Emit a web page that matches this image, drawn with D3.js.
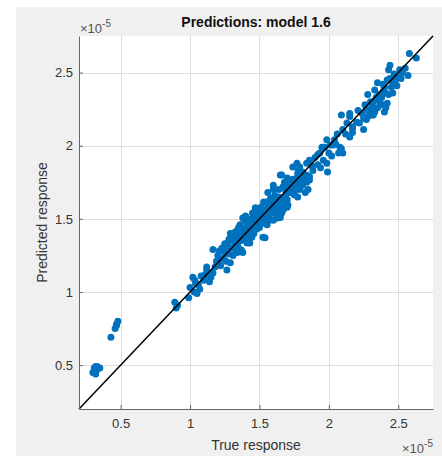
<!DOCTYPE html>
<html>
<head>
<meta charset="utf-8">
<script src="https://cdn.jsdelivr.net/npm/d3@7"></script>
<style>
  html, body { margin: 0; padding: 0; background: #ffffff; }
  svg { display: block; }
  text { font-family: "Liberation Sans", Arial, Helvetica, sans-serif; }
</style>
</head>
<body>
<svg id="chart" width="442" height="456"></svg>
<script>
// ---- data (units of 1e-5) ----
const titleText = "Predictions: model 1.6";
const xLabel = "True response";
const yLabel = "Predicted response";
const xTicks = [0.5, 1, 1.5, 2, 2.5];
const yTicks = [0.5, 1, 1.5, 2, 2.5];
const axisDomain = [0.2, 2.75];

// [true, predicted]
const ptsLow = [
  [0.31,0.46],[0.32,0.44],[0.33,0.47],[0.30,0.45],[0.34,0.48],[0.33,0.49],[0.35,0.48],[0.31,0.48],[0.32,0.49],
  [0.43,0.69],[0.46,0.75],[0.47,0.78],[0.48,0.80],[0.47,0.77],
  [0.89,0.93],[0.90,0.89],[0.91,0.91],
  [0.99,0.96],[1.00,1.03],[1.03,1.00],[1.04,1.06],[1.02,1.10],[1.035,1.08],[1.06,1.05],[1.05,0.99],
  [1.08,1.11],[1.10,1.08],[1.12,1.15],[1.13,1.115],[1.12,1.17],[1.165,1.13],[1.18,1.17],[1.165,1.29],
  [1.20,1.25],[1.215,1.22],[1.29,1.20],[1.265,1.15],[1.27,1.335],[1.30,1.39],[1.345,1.31],[1.38,1.27],
  [1.37,1.375],[1.41,1.335],[1.15,1.10],[1.22,1.18],[1.24,1.23],[1.25,1.27],[1.23,1.30],[1.28,1.26],
  [1.30,1.30],[1.32,1.34],[1.33,1.28],[1.26,1.21],[1.19,1.21],
  [1.07,1.02],[1.11,1.12],[1.14,1.07],[1.21,1.28],[1.25,1.33],[1.31,1.25],[1.28,1.36],[1.34,1.27]
];
const ptsMid = [
  [1.34,1.42],[1.36,1.46],[1.29,1.40],[1.31,1.355],[1.27,1.31],[1.38,1.355],[1.445,1.375],[1.525,1.375],
  [1.41,1.49],[1.48,1.47],[1.395,1.49],[1.325,1.41],[1.35,1.38],[1.40,1.40],[1.42,1.44],[1.38,1.505],
  [1.41,1.46],[1.45,1.54],[1.43,1.335],[1.37,1.287],[1.44,1.42],[1.46,1.45],[1.47,1.50],[1.39,1.43],
  [1.36,1.35],[1.42,1.38],[1.40,1.52],[1.33,1.36],[1.45,1.47],[1.35,1.44],
  [1.37,1.41],[1.43,1.47],[1.39,1.37],[1.46,1.40],[1.48,1.43],[1.41,1.41],[1.44,1.50],[1.34,1.33],
  [1.47,1.575],[1.48,1.53],[1.50,1.54],[1.53,1.55],[1.575,1.58],[1.60,1.49],[1.65,1.51],[1.63,1.61],
  [1.67,1.56],[1.705,1.595],[1.54,1.37],[1.50,1.44],[1.555,1.46],[1.53,1.615],[1.59,1.595],
  [1.56,1.68],[1.55,1.615],[1.60,1.70],[1.61,1.63],[1.575,1.54],[1.63,1.505],[1.66,1.54],[1.70,1.58],
  [1.52,1.50],[1.57,1.52],[1.62,1.57],[1.64,1.65],[1.58,1.64],[1.51,1.58],[1.55,1.50],[1.68,1.62],
  [1.54,1.56],[1.49,1.51],[1.62,1.53],[1.66,1.60],[1.59,1.56],[1.56,1.59],[1.53,1.47],[1.61,1.66],
  [1.52,1.53],[1.58,1.61],[1.65,1.58],[1.57,1.49],[1.50,1.48],[1.63,1.55],[1.67,1.64],[1.54,1.52],
  [1.66,1.80],[1.67,1.72],[1.73,1.745],[1.775,1.81],[1.84,1.75],[1.83,1.68],[1.65,1.80],[1.60,1.73],
  [1.72,1.73],[1.75,1.68],[1.775,1.65],[1.70,1.63],[1.74,1.855],[1.77,1.88],[1.79,1.855],[1.84,1.88],
  [1.86,1.90],[1.81,1.82],[1.86,1.79],[1.885,1.83],[1.84,1.755],[1.77,1.78],[1.735,1.72],[1.79,1.70],
  [1.85,1.70],[1.75,1.665],[1.86,1.765],[1.84,1.80],[1.69,1.69],[1.71,1.76],[1.78,1.74],[1.68,1.75],
  [1.82,1.78],[1.76,1.71],[1.80,1.77],[1.72,1.68],[1.88,1.86],[1.70,1.78],[1.81,1.73],[1.64,1.70],
  [1.74,1.77],[1.69,1.66],[1.78,1.83],[1.73,1.69],[1.71,1.71]
];
const ptsHigh = [
  [1.92,1.87],[1.935,1.95],[1.96,1.90],[1.97,1.99],[1.99,1.82],[2.01,2.005],[2.04,2.04],[2.06,2.08],
  [2.09,1.98],[2.10,1.95],[2.07,1.95],[1.985,2.04],[1.95,1.99],[2.03,2.005],[1.985,1.88],[1.92,1.94],
  [1.96,1.99],[2.08,1.99],[2.10,2.11],[2.15,2.06],[2.09,2.21],[2.13,2.155],[2.17,2.12],[1.90,1.92],
  [2.00,1.95],[2.05,2.01],[2.12,2.08],[1.94,1.85],[2.02,1.93],
  [2.15,2.20],[2.17,2.13],[2.22,2.155],[2.27,2.18],[2.31,2.21],[2.33,2.23],[2.17,2.09],[2.15,2.22],
  [2.25,2.19],[2.28,2.20],[2.32,2.21],[2.40,2.23],[2.26,2.28],[2.35,2.26],[2.37,2.29],[2.42,2.29],
  [2.30,2.30],[2.28,2.35],[2.38,2.33],[2.43,2.35],[2.46,2.36],[2.33,2.38],[2.40,2.40],[2.49,2.41],
  [2.35,2.43],[2.42,2.45],[2.44,2.46],[2.48,2.45],[2.50,2.47],[2.57,2.48],[2.51,2.52],[2.55,2.53],
  [2.43,2.52],[2.44,2.55],[2.58,2.63],[2.63,2.60],[2.21,2.24],[2.27,2.25],[2.25,2.11],[2.20,2.16],
  [2.24,2.22],[2.36,2.31],[2.39,2.37],[2.45,2.40],[2.31,2.27],[2.47,2.49],[2.52,2.46],[2.41,2.26],
  [2.34,2.33],[2.29,2.24],[2.53,2.50],
  [2.38,2.28],[2.41,2.36],[2.36,2.35],[2.46,2.43],[2.32,2.30],[2.39,2.42]
];
const points = ptsLow.concat(ptsMid, ptsHigh);

// ---- drawing ----
const svg = d3.select("#chart");
const W = 442, H = 456;
const plot = { left: 79, top: 36, right: 433, bottom: 409 };

svg.append("rect").attr("x", 16).attr("y", 7).attr("width", W - 16).attr("height", H - 7)
  .attr("fill", "#f0f0f0");
svg.append("rect").attr("x", plot.left).attr("y", plot.top)
  .attr("width", plot.right - plot.left).attr("height", plot.bottom - plot.top)
  .attr("fill", "#ffffff");

const x = d3.scaleLinear().domain(axisDomain).range([plot.left, plot.right]);
const y = d3.scaleLinear().domain(axisDomain).range([plot.bottom, plot.top]);

// grid
const grid = svg.append("g").attr("stroke", "#dedede").attr("stroke-width", 1);
grid.selectAll("line.gx").data(xTicks).join("line")
  .attr("x1", d => Math.round(x(d)) + 0.5).attr("x2", d => Math.round(x(d)) + 0.5)
  .attr("y1", plot.top).attr("y2", plot.bottom);
grid.selectAll("line.gy").data(yTicks).join("line")
  .attr("y1", d => Math.round(y(d)) + 0.5).attr("y2", d => Math.round(y(d)) + 0.5)
  .attr("x1", plot.left).attr("x2", plot.right);

// points
svg.append("g").selectAll("circle").data(points).join("circle")
  .attr("cx", d => x(d[0])).attr("cy", d => y(d[1])).attr("r", 3.5)
  .attr("fill", "#0072BD");

// diagonal
svg.append("line")
  .attr("x1", x(axisDomain[0])).attr("y1", y(axisDomain[0]))
  .attr("x2", x(axisDomain[1])).attr("y2", y(axisDomain[1]))
  .attr("stroke", "#000").attr("stroke-width", 1.5);

// axes (inward ticks, MATLAB style)
const xAxis = d3.axisBottom(x).tickValues(xTicks).tickSizeInner(-4).tickSizeOuter(0)
  .tickPadding(10).tickFormat(d3.format("~g"));
const yAxis = d3.axisLeft(y).tickValues(yTicks).tickSizeInner(-4).tickSizeOuter(0)
  .tickPadding(6).tickFormat(d3.format("~g"));

const gx = svg.append("g").attr("transform", `translate(0,${plot.bottom})`).call(xAxis);
const gy = svg.append("g").attr("transform", `translate(${plot.left},0)`).call(yAxis);
[gx, gy].forEach(g => {
  g.select(".domain").attr("stroke", "#666").attr("stroke-width", 1);
  g.selectAll(".tick line").attr("stroke", "#666");
  g.selectAll(".tick text").attr("fill", "#333").attr("font-size", 13)
    .attr("font-family", "Liberation Sans, Arial, sans-serif");
});
gx.selectAll(".tick text").attr("dy", "0.71em");

// title
svg.append("text").attr("x", (plot.left + plot.right) / 2).attr("y", 27)
  .attr("text-anchor", "middle").attr("font-size", 14).attr("font-weight", "bold")
  .attr("fill", "#111").text(titleText);

// axis labels
svg.append("text").attr("x", (plot.left + plot.right) / 2).attr("y", 450)
  .attr("text-anchor", "middle").attr("font-size", 14).attr("fill", "#333").text(xLabel);
svg.append("text")
  .attr("transform", `translate(47,${(plot.top + plot.bottom) / 2}) rotate(-90)`)
  .attr("text-anchor", "middle").attr("font-size", 14).attr("fill", "#333").text(yLabel);

// exponent labels
function expLabel(px, py, anchor) {
  const t = svg.append("text").attr("x", px).attr("y", py).attr("text-anchor", anchor)
    .attr("font-size", 13).attr("fill", "#555");
  t.append("tspan").text("\u00d710");
  t.append("tspan").attr("dy", -6).attr("font-size", 10).text("-5");
}
expLabel(plot.left + 1, 33, "start");
expLabel(plot.right, 453, "end");
</script>
</body>
</html>
